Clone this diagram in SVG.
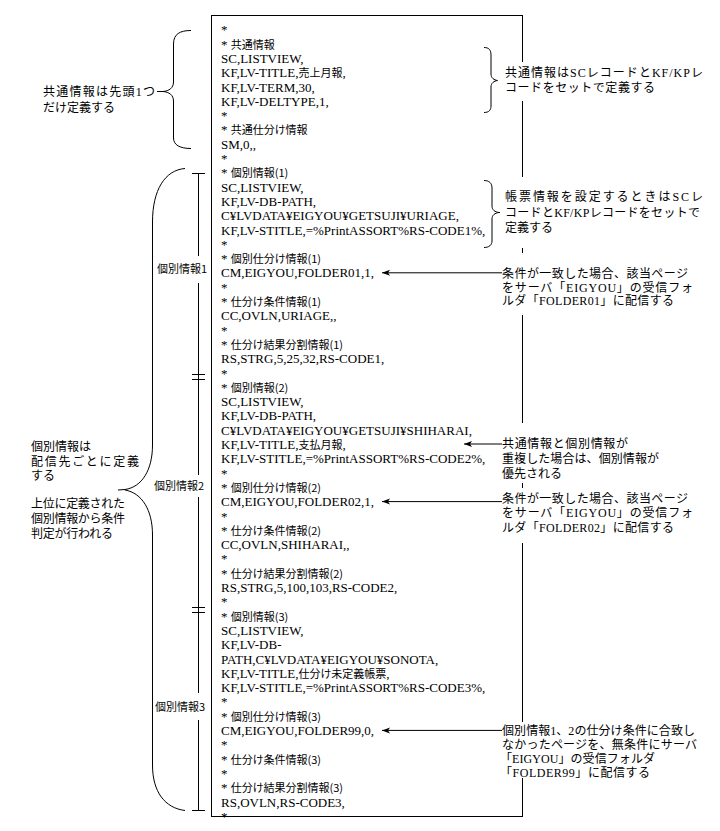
<svg xmlns="http://www.w3.org/2000/svg" width="720" height="831" viewBox="0 0 720 831">
<style>
.code{font-family:"Liberation Serif","Noto Sans CJK JP",serif;font-size:13px;fill:#000}
.j{font-family:"Noto Sans CJK JP",sans-serif;font-size:11px;font-feature-settings:"palt"}
.ann{font-family:"Liberation Serif","Noto Sans CJK JP",serif;font-size:12px;fill:#000}
.lbl{font-family:"Noto Sans CJK JP",sans-serif;font-size:11px;fill:#000}
.ln{fill:none;stroke:#000;stroke-width:1}
.bg{fill:#fff;stroke:none}
</style>
<defs>
<marker id="ah" markerWidth="10" markerHeight="8" refX="8" refY="4" orient="auto" markerUnits="userSpaceOnUse">
<path d="M8,4 L0,1 L2,4 L0,7 Z" fill="#000"/>
</marker>
</defs>
<rect width="720" height="831" fill="#fff"/>

<g id="code-box">
<rect x="211.5" y="15.5" width="311" height="801" class="ln"/>
<text class="code" x="221">
<tspan x="221" y="34.3">*</tspan>
<tspan x="221" y="48.6">* <tspan class="j">共通情報</tspan></tspan>
<tspan x="221" y="62.9">SC,LISTVIEW,</tspan>
<tspan x="221" y="77.2">KF,LV-TITLE,<tspan class="j">売上月報</tspan>,</tspan>
<tspan x="221" y="91.5">KF,LV-TERM,30,</tspan>
<tspan x="221" y="105.8">KF,LV-DELTYPE,1,</tspan>
<tspan x="221" y="120.1">*</tspan>
<tspan x="221" y="134.4">* <tspan class="j">共通仕分け情報</tspan></tspan>
<tspan x="221" y="148.7">SM,0,,</tspan>
<tspan x="221" y="163.0">*</tspan>
<tspan x="221" y="177.3">* <tspan class="j">個別情報(1)</tspan></tspan>
<tspan x="221" y="191.6">SC,LISTVIEW,</tspan>
<tspan x="221" y="205.9">KF,LV-DB-PATH,</tspan>
<tspan x="221" y="220.2">C¥LVDATA¥EIGYOU¥GETSUJI¥URIAGE,</tspan>
<tspan x="221" y="234.5">KF,LV-STITLE,=%PrintASSORT%RS-CODE1%,</tspan>
<tspan x="221" y="248.8">*</tspan>
<tspan x="221" y="263.1">* <tspan class="j">個別仕分け情報(1)</tspan></tspan>
<tspan x="221" y="277.4">CM,EIGYOU,FOLDER01,1,</tspan>
<tspan x="221" y="291.7">*</tspan>
<tspan x="221" y="306.0">* <tspan class="j">仕分け条件情報(1)</tspan></tspan>
<tspan x="221" y="320.3">CC,OVLN,URIAGE,,</tspan>
<tspan x="221" y="334.6">*</tspan>
<tspan x="221" y="348.9">* <tspan class="j">仕分け結果分割情報(1)</tspan></tspan>
<tspan x="221" y="363.2">RS,STRG,5,25,32,RS-CODE1,</tspan>
<tspan x="221" y="377.5">*</tspan>
<tspan x="221" y="391.8">* <tspan class="j">個別情報(2)</tspan></tspan>
<tspan x="221" y="406.1">SC,LISTVIEW,</tspan>
<tspan x="221" y="420.4">KF,LV-DB-PATH,</tspan>
<tspan x="221" y="434.7">C¥LVDATA¥EIGYOU¥GETSUJI¥SHIHARAI,</tspan>
<tspan x="221" y="449.0">KF,LV-TITLE,<tspan class="j">支払月報</tspan>,</tspan>
<tspan x="221" y="463.3">KF,LV-STITLE,=%PrintASSORT%RS-CODE2%,</tspan>
<tspan x="221" y="477.6">*</tspan>
<tspan x="221" y="491.9">* <tspan class="j">個別仕分け情報(2)</tspan></tspan>
<tspan x="221" y="506.2">CM,EIGYOU,FOLDER02,1,</tspan>
<tspan x="221" y="520.5">*</tspan>
<tspan x="221" y="534.8">* <tspan class="j">仕分け条件情報(2)</tspan></tspan>
<tspan x="221" y="549.1">CC,OVLN,SHIHARAI,,</tspan>
<tspan x="221" y="563.4">*</tspan>
<tspan x="221" y="577.7">* <tspan class="j">仕分け結果分割情報(2)</tspan></tspan>
<tspan x="221" y="592.0">RS,STRG,5,100,103,RS-CODE2,</tspan>
<tspan x="221" y="606.3">*</tspan>
<tspan x="221" y="620.6">* <tspan class="j">個別情報(3)</tspan></tspan>
<tspan x="221" y="634.9">SC,LISTVIEW,</tspan>
<tspan x="221" y="649.2">KF,LV-DB-</tspan>
<tspan x="221" y="663.5">PATH,C¥LVDATA¥EIGYOU¥SONOTA,</tspan>
<tspan x="221" y="677.8">KF,LV-TITLE,<tspan class="j">仕分け未定義帳票</tspan>,</tspan>
<tspan x="221" y="692.1">KF,LV-STITLE,=%PrintASSORT%RS-CODE3%,</tspan>
<tspan x="221" y="706.4">*</tspan>
<tspan x="221" y="720.7">* <tspan class="j">個別仕分け情報(3)</tspan></tspan>
<tspan x="221" y="735.0">CM,EIGYOU,FOLDER99,0,</tspan>
<tspan x="221" y="749.3">*</tspan>
<tspan x="221" y="763.6">* <tspan class="j">仕分け条件情報(3)</tspan></tspan>
<tspan x="221" y="777.9">*</tspan>
<tspan x="221" y="792.2">* <tspan class="j">仕分け結果分割情報(3)</tspan></tspan>
<tspan x="221" y="806.5">RS,OVLN,RS-CODE3,</tspan>
<tspan x="221" y="820.8">*</tspan>
</text>
</g>

<g id="brace-common-right">
<path class="ln" d="M484,47.5 C489,47.5 491,50 491,55 L491,74 C491,78 494,80 497.5,80.5 C494,81 491,83 491,87 L491,106 C491,110 489,112.5 484,112.5"/>
</g>
<g id="brace-sc-right">
<path class="ln" d="M484,180.5 C489,180.5 492,183 492,188 L492,206 C492,210 495,212 499,212.5 L503,212.5 M499,212.5 C495,213 492,215 492,219 L492,241 C492,245 489,247.5 484,247.5"/>
</g>

<g id="note-common">
<rect class="bg" x="500" y="62" width="212" height="39"/>
<text class="ann"><tspan x="505" y="77" textLength="198" lengthAdjust="spacing">共通情報はSCレコードとKF/KPレ</tspan><tspan x="505" y="92" textLength="150" lengthAdjust="spacing">コードをセットで定義する</tspan></text>
</g>
<g id="note-sc">
<rect class="bg" x="500" y="177" width="212" height="71"/>
<text class="ann"><tspan x="505" y="200.5" textLength="198" lengthAdjust="spacing">帳票情報を設定するときはSCレ</tspan><tspan x="505" y="216.5" textLength="195" lengthAdjust="spacing">コードとKF/KPレコードをセットで</tspan><tspan x="505" y="231.5">定義する</tspan></text>
</g>
<g id="note-folder01">
<rect class="bg" x="500" y="253" width="212" height="62"/>
<text class="ann"><tspan x="502" y="277.5" textLength="186" lengthAdjust="spacing">条件が一致した場合、該当ページ</tspan><tspan x="502" y="291.5" textLength="191" lengthAdjust="spacing">をサーバ「EIGYOU」の受信フォ</tspan><tspan x="502" y="305" textLength="172" lengthAdjust="spacing">ルダ「FOLDER01」に配信する</tspan></text>
</g>
<g id="note-priority">
<rect class="bg" x="500" y="423" width="212" height="60"/>
<text class="ann"><tspan x="502" y="448" textLength="126" lengthAdjust="spacing">共通情報と個別情報が</tspan><tspan x="502" y="463" textLength="157" lengthAdjust="spacing">重複した場合は、個別情報が</tspan><tspan x="502" y="478">優先される</tspan></text>
</g>
<g id="note-folder02">
<rect class="bg" x="500" y="488" width="212" height="55"/>
<text class="ann"><tspan x="502" y="503" textLength="186" lengthAdjust="spacing">条件が一致した場合、該当ページ</tspan><tspan x="502" y="517" textLength="191" lengthAdjust="spacing">をサーバ「EIGYOU」の受信フォ</tspan><tspan x="502" y="531.5" textLength="172" lengthAdjust="spacing">ルダ「FOLDER02」に配信する</tspan></text>
</g>
<g id="note-folder99">
<rect class="bg" x="500" y="722" width="212" height="56"/>
<text class="ann"><tspan x="502" y="734.5" textLength="193" lengthAdjust="spacing">個別情報1、2の仕分け条件に合致し</tspan><tspan x="502" y="748.5" textLength="195" lengthAdjust="spacing">なかったページを、無条件にサーバ</tspan><tspan x="500" y="762.5" textLength="155" lengthAdjust="spacing">「EIGYOU」の受信フォルダ</tspan><tspan x="500" y="776.5" textLength="150" lengthAdjust="spacing">「FOLDER99」に配信する</tspan></text>
</g>

<g id="brace-common-left">
<path class="ln" d="M191,30.5 C180,30.5 173.5,34 173.5,44 L173.5,82 C173.5,88 169,91 163,91.5 L157,91.5 M163,91.5 C169,92 173.5,95 173.5,101 L173.5,138 C173.5,145 180,148.5 191,148.5"/>
<text class="ann"><tspan x="43" y="95.5" textLength="112" lengthAdjust="spacing">共通情報は先頭1つ</tspan><tspan x="43" y="112">だけ定義する</tspan></text>
</g>

<g id="brace-individual-left">
<path class="ln" d="M185,168.5 C165,170 152.5,190 152.5,222 L152.5,445 C152.5,470 142,487 125,489.5 L118,490 M125,490 C142,493 152.5,510 152.5,535 L152.5,765 C152.5,792 165,808 185,810.5"/>
<text class="ann"><tspan x="31" y="451">個別情報は</tspan><tspan x="31" y="465.5" textLength="108" lengthAdjust="spacing">配信先ごとに定義</tspan><tspan x="31" y="479.5">する</tspan><tspan x="31" y="507.5" textLength="94" lengthAdjust="spacing">上位に定義された</tspan><tspan x="31" y="522.5" textLength="94" lengthAdjust="spacing">個別情報から条件</tspan><tspan x="31" y="537.5" textLength="82" lengthAdjust="spacing">判定が行われる</tspan></text>
</g>

<g id="bracket-individual">
<path class="ln" d="M198.5,173 V810 M192,173.5 H205 M192,374.5 H205 M192,379.5 H205 M192,607.5 H205 M192,612.5 H205 M192,810.5 H205"/>
</g>
<g id="label-1">
<rect class="bg" x="155" y="256" width="54" height="27"/>
<text class="lbl" x="157" y="273">個別情報1</text>
</g>
<g id="label-2">
<rect class="bg" x="153" y="475" width="56" height="22"/>
<text class="lbl" x="154" y="490">個別情報2</text>
</g>
<g id="label-3">
<rect class="bg" x="154" y="693" width="55" height="27"/>
<text class="lbl" x="155" y="711">個別情報3</text>
</g>

<g id="connectors">
<path class="ln" d="M502,272.8 H382" marker-end="url(#ah)"/>
<path class="ln" d="M502,444 H464" marker-end="url(#ah)"/>
<path class="ln" d="M502,501.6 H382" marker-end="url(#ah)"/>
<path class="ln" d="M502,730.4 H382" marker-end="url(#ah)"/>
</g>
</svg>
